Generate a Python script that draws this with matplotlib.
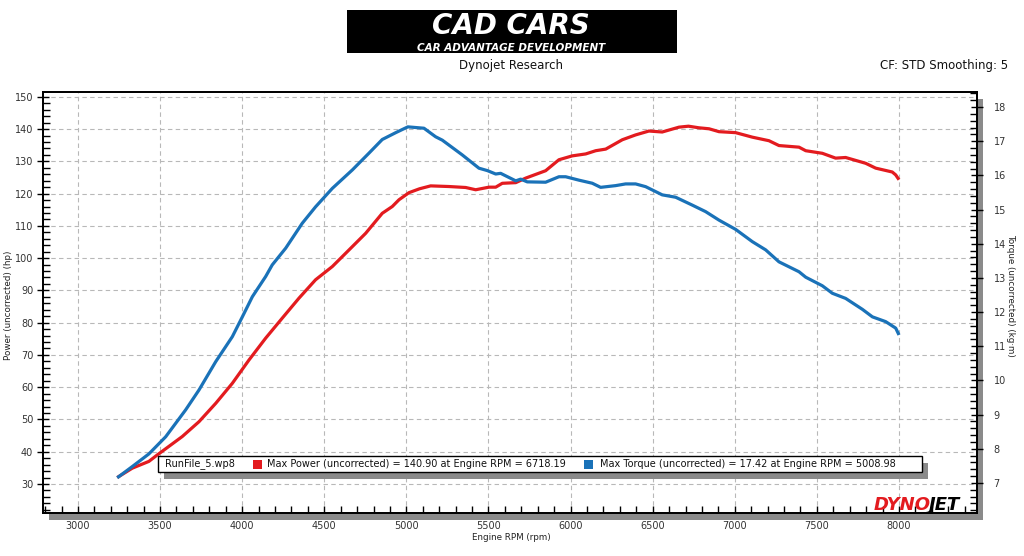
import matplotlib
matplotlib.use("Agg")
import matplotlib.pyplot as plt
from matplotlib.patches import Rectangle
from matplotlib.ticker import MultipleLocator

# power curve (hp)
rpm_power = [3239, 3331, 3432, 3483, 3635, 3737, 3839, 3940, 4041, 4143,
             4244, 4346, 4447, 4549, 4630, 4752, 4853, 4914, 4955, 5016,
             5080, 5148, 5259, 5361, 5422, 5503, 5544, 5584, 5666, 5726,
             5848, 5929, 6010, 6092, 6153, 6214, 6315, 6396, 6477, 6558,
             6660, 6718, 6782, 6843, 6904, 7005, 7107, 7208, 7269, 7391,
             7432, 7533, 7614, 7675, 7797, 7858, 7959, 7980, 8000]
power_hp = [32.0, 34.9, 37.0, 39.0, 44.7, 49.3, 55.0, 61.2, 68.4, 75.2,
            81.4, 87.6, 93.3, 97.4, 101.5, 107.7, 113.9, 116.0, 118.1, 120.3,
            121.5, 122.4, 122.2, 121.9, 121.2, 122.0, 122.0, 123.2, 123.4, 124.8,
            127.1, 130.5, 131.7, 132.3, 133.3, 133.8, 136.7, 138.2, 139.4, 139.1,
            140.6, 140.9, 140.4, 140.1, 139.2, 138.9, 137.5, 136.4, 134.9, 134.4,
            133.3, 132.5, 131.0, 131.2, 129.4, 127.9, 126.7, 125.8, 124.3]

# torque curve (kg-m)
rpm_torque = [3239, 3331, 3432, 3534, 3656, 3737, 3839, 3940, 4001, 4062,
              4143, 4183, 4265, 4366, 4447, 4549, 4671, 4772, 4853, 4935,
              5009, 5107, 5178, 5219, 5340, 5442, 5493, 5544, 5574, 5666,
              5696, 5736, 5848, 5929, 5970, 6051, 6132, 6183, 6274, 6335,
              6396, 6457, 6558, 6640, 6741, 6822, 6904, 7005, 7107, 7188,
              7269, 7391, 7432, 7533, 7594, 7675, 7777, 7838, 7919, 7980, 8000]
torque_kgm = [7.15, 7.48, 7.85, 8.35, 9.14, 9.72, 10.55, 11.28, 11.86, 12.45,
              13.04, 13.38, 13.87, 14.60, 15.08, 15.62, 16.16, 16.65, 17.05, 17.25,
              17.42, 17.38, 17.13, 17.03, 16.60, 16.21, 16.14, 16.04, 16.06, 15.84,
              15.89, 15.81, 15.80, 15.96, 15.96, 15.86, 15.77, 15.65, 15.70, 15.75,
              15.75, 15.67, 15.43, 15.36, 15.13, 14.94, 14.69, 14.42, 14.06, 13.82,
              13.47, 13.18, 13.02, 12.77, 12.55, 12.40, 12.08, 11.86, 11.72, 11.53, 11.33]

run_name = "RunFile_5.wp8"
power_note = "Max Power (uncorrected) = 140.90 at Engine RPM = 6718.19"
torque_note = "Max Torque (uncorrected) = 17.42 at Engine RPM = 5008.98"

RED = "#e31b1f"
BLUE = "#1a72b8"
W, H = 1024, 556


def fx(x):
    return x / W


def fy(y):
    return 1 - y / H


plt.rcParams['font.family'] = ['DejaVu Sans']
fig = plt.figure(figsize=(W / 100, H / 100), dpi=100)
fig.patch.set_facecolor("white")

# plot box in pixels
L, R, T, B = 43, 977, 92, 513
fig.add_artist(Rectangle((fx(L + 6), fy(B + 7)), (R - L) / W, (B - T) / H,
                         transform=fig.transFigure, facecolor="#8a8a8a",
                         edgecolor="none", zorder=-1))

ax = fig.add_axes([fx(L), fy(B), (R - L) / W, (B - T) / H])
ax.set_facecolor("white")
ax.plot(rpm_power, power_hp, color=RED, lw=2.3, solid_capstyle="butt")
ax.set_xlim(2787, 8475)
ax.set_ylim(21.0, 151.5)
ax.xaxis.set_major_locator(MultipleLocator(500))
ax.xaxis.set_minor_locator(MultipleLocator(100))
ax.yaxis.set_major_locator(MultipleLocator(10))
ax.yaxis.set_minor_locator(MultipleLocator(2))
ax.grid(which="major", color="#b8b8b8", linestyle=(0, (4, 3)), linewidth=0.8)
ax.xaxis.set_ticks_position("bottom")
ax.tick_params(axis="x", which="both", direction="in", length=5, width=1,
               labelsize=7, pad=6, labelcolor="#333333")
ax.tick_params(axis="y", which="major", direction="inout", length=8, width=1,
               labelsize=7, pad=3, labelcolor="#333333", right=False)
ax.tick_params(axis="y", which="minor", direction="in", length=5, width=1,
               right=False)
for s in ax.spines.values():
    s.set_linewidth(1.3)

ax2 = ax.twinx()
ax2.plot(rpm_torque, torque_kgm, color=BLUE, lw=2.3, solid_capstyle="butt")
ax2.set_ylim(6.12, 18.44)
ax2.yaxis.set_major_locator(MultipleLocator(1))
ax2.yaxis.set_minor_locator(MultipleLocator(0.2))
ax2.xaxis.set_visible(False)
ax2.tick_params(axis="y", which="major", direction="inout", length=8, width=1,
                labelsize=7, pad=8, labelcolor="#333333", left=False)
ax2.tick_params(axis="y", which="minor", direction="in", length=5, width=1,
                left=False)
for s in ax2.spines.values():
    s.set_linewidth(1.3)

# axis titles
fig.text(fx(9), fy(305), "Power (uncorrected) (hp)", rotation=90,
         ha="center", va="center", fontsize=6.3, color="#222222")
fig.text(fx(1011), fy(295), "Torque (uncorrected) (kg·m)", rotation=270,
         ha="center", va="center", fontsize=6.3, color="#222222")
fig.text(fx(511), fy(537), "Engine RPM (rpm)", ha="center", va="center",
         fontsize=6.3, color="#222222")

# header
fig.add_artist(Rectangle((fx(347), fy(53)), 330 / W, 43 / H,
                         transform=fig.transFigure, facecolor="black",
                         edgecolor="none"))
fig.text(fx(511), fy(34), "CAD CARS", ha="center", va="baseline", color="white",
         fontsize=20, fontweight="heavy", fontstyle="italic")
fig.text(fx(511), fy(51), "CAR ADVANTAGE DEVELOPMENT", ha="center",
         va="baseline", color="white", fontsize=7.5, fontweight="bold",
         fontstyle="italic")
fig.text(fx(511), fy(66), "Dynojet Research", ha="center", va="center",
         fontsize=8.5, color="#111111")
fig.text(fx(1008), fy(66), "CF: STD Smoothing: 5", ha="right", va="center",
         fontsize=8.5, color="#111111")

# run legend box
fig.add_artist(Rectangle((fx(164), fy(479)), 764 / W, 16 / H,
                         transform=fig.transFigure, facecolor="#8a8a8a",
                         edgecolor="none", zorder=5))
fig.add_artist(Rectangle((fx(158), fy(472)), 764 / W, 16 / H,
                         transform=fig.transFigure, facecolor="white",
                         edgecolor="black", linewidth=1, zorder=6))
fig.text(fx(165), fy(464), run_name, ha="left", va="center", fontsize=7,
         color="#111111", zorder=7)
fig.add_artist(Rectangle((fx(253), fy(468.5)), 9 / W, 9 / H,
                         transform=fig.transFigure, facecolor=RED,
                         edgecolor="none", zorder=7))
fig.text(fx(267), fy(464), power_note, ha="left", va="center", fontsize=7,
         color="#111111", zorder=7)
fig.add_artist(Rectangle((fx(584), fy(468.5)), 9 / W, 9 / H,
                         transform=fig.transFigure, facecolor=BLUE,
                         edgecolor="none", zorder=7))
fig.text(fx(600), fy(464), torque_note, ha="left", va="center", fontsize=7,
         color="#111111", zorder=7)

# dynojet mark
fig.text(fx(931), fy(505), "DYNO", ha="right", va="center", color=RED,
         fontsize=13, fontweight="heavy", fontstyle="italic", zorder=7)
fig.text(fx(929), fy(505), "JET", ha="left", va="center", color="black",
         fontsize=13, fontweight="heavy", fontstyle="italic", zorder=7)

fig.savefig("out.png", dpi=100)
